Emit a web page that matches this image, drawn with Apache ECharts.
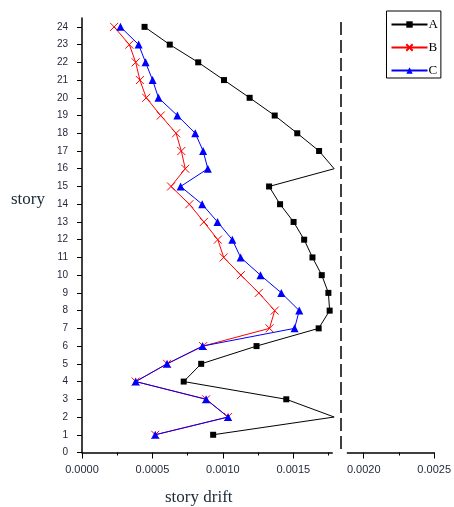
<!DOCTYPE html>
<html>
<head>
<meta charset="utf-8">
<script src="https://cdn.jsdelivr.net/npm/echarts@6/dist/echarts.min.js"></script>
<style>
  html, body { margin: 0; padding: 0; background: #fff; }
  #chart { width: 454px; height: 507px; }
</style>
</head>
<body>
<div id="chart"></div>
<script>
// ---- data (story 1 .. 24) ----
const stories = [1, 2, 3, 4, 5, 6, 7, 8, 9, 10, 11, 12, 13, 14, 15, 16, 17, 18, 19, 20, 21, 22, 23, 24];
const seriesA = [0.000931, 0.00179, 0.00145, 0.000722, 0.000846, 0.001239, 0.00168, 0.001758, 0.001749, 0.001702, 0.001636, 0.001577, 0.001502, 0.001406, 0.001328, 0.00179, 0.001683, 0.001528, 0.001368, 0.00119, 0.001008, 0.000825, 0.000623, 0.000444];
const seriesB = [0.00052, 0.001037, 0.000881, 0.000381, 0.000604, 0.00086, 0.001331, 0.001368, 0.001255, 0.001128, 0.001006, 0.000964, 0.000865, 0.000762, 0.000632, 0.000733, 0.000705, 0.000668, 0.000559, 0.000456, 0.000411, 0.000381, 0.000336, 0.000228];
const seriesC = [0.00052, 0.001037, 0.000881, 0.000381, 0.000604, 0.000856, 0.001509, 0.001542, 0.001415, 0.001267, 0.001126, 0.001067, 0.000962, 0.000853, 0.0007, 0.000893, 0.00086, 0.000804, 0.000677, 0.000543, 0.000501, 0.000451, 0.000402, 0.000273];
const seriesNames = ['A', 'B', 'C'];
const storyTicks = [0, 1, 2, 3, 4, 5, 6, 7, 8, 9, 10, 11, 12, 13, 14, 15, 16, 17, 18, 19, 20, 21, 22, 23, 24];
const driftTicks = [0, 0.0005, 0.001, 0.0015, 0.002, 0.0025];
const breakValue = 0.001834;          // dashed break line on the x axis
const breakGap = [0.00178, 0.00188];  // gap in the x axis line
const xTitle = 'story drift';
const yTitle = 'story';

// ---- chart ----
const chart = echarts.init(document.getElementById('chart'), null, { renderer: 'canvas' });

function pairs(vals) {
  return vals.map((v, i) => {
    const item = { value: [v, stories[i]] };
    if (v >= breakGap[0]) item.symbol = 'none'; // clipped at the axis break
    return item;
  });
}

const labelColor = '#1e2438';
const serif = '"Liberation Serif", "DejaVu Serif", serif';

const option = {
  animation: false,
  backgroundColor: '#ffffff',
  grid: { left: 82, right: 17.3, top: 18, bottom: 54.5 },
  title: [
    { text: yTitle, left: 11, top: 191, padding: 0,
      textStyle: { fontFamily: serif, fontSize: 17, fontWeight: 'normal', color: '#1c2a36' } },
    { text: xTitle, left: 165, top: 489, padding: 0,
      textStyle: { fontFamily: serif, fontSize: 17, fontWeight: 'normal', color: '#1c2a36' } }
  ],
  legend: {
    data: seriesNames,
    orient: 'vertical',
    left: 386.5, top: 11,
    padding: [7, 3, 1, 4],
    itemGap: 10,
    itemWidth: 36,
    itemHeight: 8,
    borderColor: '#000',
    borderWidth: 1,
    textStyle: { fontFamily: serif, fontSize: 13, color: '#000', padding: [0, 0, 0, -4] }
  },
  xAxis: {
    type: 'value',
    min: 0, max: 0.0025, interval: 0.0005,
    splitLine: { show: false },
    axisLine: { show: true, onZero: false, lineStyle: { color: '#000', width: 1.5 } },
    axisTick: { show: true, inside: false, length: 6, lineStyle: { color: '#000', width: 1 } },
    minorTick: { show: true, splitNumber: 2, length: 3, lineStyle: { color: '#000', width: 1 } },
    axisLabel: {
      customValues: driftTicks,
      margin: 12, fontSize: 11, color: labelColor,
      fontFamily: 'Arial, "Liberation Sans", sans-serif',
      formatter: v => v.toFixed(4)
    }
  },
  yAxis: {
    type: 'value',
    min: 0, max: 24.5, interval: 1,
    splitLine: { show: false },
    axisLine: { show: true, onZero: false, lineStyle: { color: '#000', width: 1.5 } },
    axisTick: { show: true, inside: false, length: 5, customValues: storyTicks, lineStyle: { color: '#000', width: 1 } },
    axisLabel: {
      customValues: storyTicks,
      margin: 14, fontSize: 10, color: labelColor,
      fontFamily: 'Arial, "Liberation Sans", sans-serif'
    }
  },
  series: [
    {
      name: seriesNames[0], type: 'line', data: pairs(seriesA),
      symbol: 'rect', symbolSize: 6,
      itemStyle: { color: '#000' },
      lineStyle: { color: '#000', width: 1 },
      clip: false,
      markLine: {
        silent: true, symbol: 'none',
        label: { show: false },
        lineStyle: { color: '#000', type: [13, 5], width: 1.5 },
        data: [[{ coord: [breakValue, 0.2] }, { coord: [breakValue, 24.3] }]]
      }
    },
    {
      name: seriesNames[1], type: 'line', data: pairs(seriesB),
      symbol: 'path://M0,0L10,10M10,0L0,10', symbolSize: 8,
      itemStyle: { color: '#ff0000', borderColor: '#ff0000', borderWidth: 1 },
      lineStyle: { color: '#ff0000', width: 1 }
    },
    {
      name: seriesNames[2], type: 'line', data: pairs(seriesC),
      symbol: 'triangle', symbolSize: 8,
      itemStyle: { color: '#0000ff' },
      lineStyle: { color: '#0000ff', width: 1 }
    }
  ]
};

chart.setOption(option);

// white gap in the x-axis line at the break
const p0 = chart.convertToPixel({ gridIndex: 0 }, [breakGap[0], 0]);
const p1 = chart.convertToPixel({ gridIndex: 0 }, [breakGap[1], 0]);
chart.setOption({
  graphic: [{
    type: 'rect', z: 100,
    shape: { x: p0[0], y: p0[1] - 2, width: p1[0] - p0[0], height: 4 },
    style: { fill: '#ffffff' }
  }]
});
</script>
</body>
</html>
